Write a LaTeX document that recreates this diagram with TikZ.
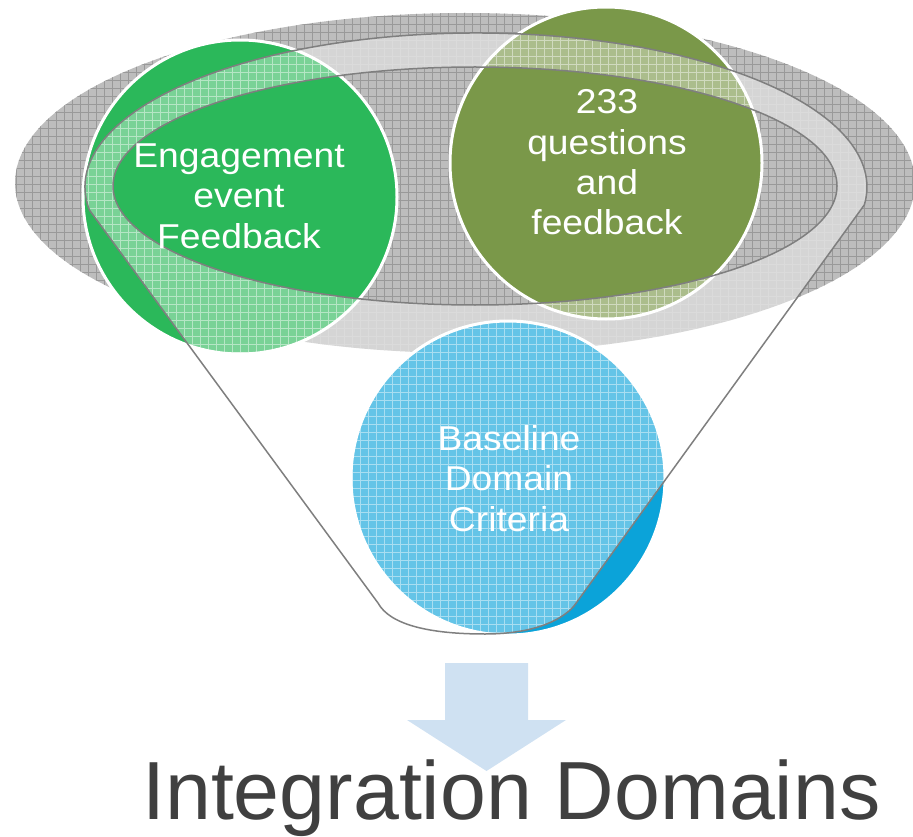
\documentclass[tikz,border=0pt]{standalone}
\usepackage{fontspec}
\setmainfont{Liberation Sans}
\newfontfamily\circfont[FakeStretch=1.08]{Liberation Sans}
\definecolor{engGreen}{HTML}{2BB85A}
\definecolor{qOlive}{HTML}{7A9849}
\definecolor{baseBlue}{HTML}{0BA3D9}
\definecolor{grayBase}{HTML}{BDBDBD}
\definecolor{grayGrid}{HTML}{999999}
\definecolor{rimLine}{HTML}{7F7F7F}
\definecolor{arrowBlue}{HTML}{CFE1F2}
\definecolor{titleGray}{HTML}{404040}
\begin{document}
\begin{tikzpicture}[x=1pt,y=-1pt,
  bubble/.style={circle, draw=white, line width=3pt, minimum size=314pt, inner sep=0pt},
  bubbletext/.style={text=white, align=center, inner sep=0pt,
    font=\circfont\fontsize{34.5}{40.5}\selectfont},
  rim/.style={draw=rimLine, line width=1.5pt, line join=round}]
\useasboundingbox (0,0) rectangle (913,837);
\clip (0,0) rectangle (913,837);

% background gray ellipse
\fill[grayBase] (465,183) ellipse [x radius=450, y radius=170];
\begin{scope}
  \clip (465,183) ellipse [x radius=450, y radius=170];
  \draw[grayGrid, line width=0.5pt, step=8pt] (0,837) grid (913,0);
\end{scope}

% circles
\node[bubble, fill=engGreen] (eng) at (240,197) {};
\node[bubble, fill=qOlive, minimum size=312pt] (qs) at (606,163) {};
\node[bubble, fill=baseBlue] (base) at (508,478) {};

% funnel overlay (funnel body minus inner opening)
\fill[white, fill opacity=0.37]
  (89.4,210) arc[start angle=171.4, end angle=366.7, x radius=391, y radius=154]
  -- (574,606) .. controls (560,622) and (530,634) .. (485,634)
  .. controls (430,634) and (390,625) .. (378,603) -- cycle
  (837,186) arc[start angle=0, end angle=-360, x radius=362, y radius=119];
\begin{scope}
  \clip
  (89.4,210) arc[start angle=171.4, end angle=366.7, x radius=391, y radius=154]
  -- (574,606) .. controls (560,622) and (530,634) .. (485,634)
  .. controls (430,634) and (390,625) .. (378,603) -- cycle
  (837,186) arc[start angle=0, end angle=-360, x radius=362, y radius=119];
  \draw[white, opacity=0.45, line width=0.8pt, step=8pt] (0,837) grid (913,0);
\end{scope}

% funnel outline
\draw[rim]
  (89.4,210) arc[start angle=171.4, end angle=366.7, x radius=391, y radius=154]
  -- (574,606) .. controls (560,622) and (530,634) .. (485,634)
  .. controls (430,634) and (390,625) .. (378,603) -- cycle;
\draw[rim] (475,186) ellipse [x radius=362, y radius=119];

% labels (base anchor = baseline of last line)
\node[bubbletext, anchor=base] (engtext) at (239,248) {Engagement\\event\\Feedback};
\node[bubbletext, anchor=base] (qtext) at (607,235) {233\\questions\\and\\feedback};
\node[bubbletext, anchor=base] (basetext) at (509,531) {Baseline\\Domain\\Criteria};

% arrow
\fill[arrowBlue] (445,663) -- (528,663) -- (528,720) -- (566,720) -- (486.5,771)
  -- (407,720) -- (445,720) -- cycle;

% title
\node[anchor=base west, inner sep=0pt, text=titleGray,
  font=\fontsize{82.5}{90}\selectfont] (title) at (142,819) {Integration Domains};
\end{tikzpicture}
\end{document}
